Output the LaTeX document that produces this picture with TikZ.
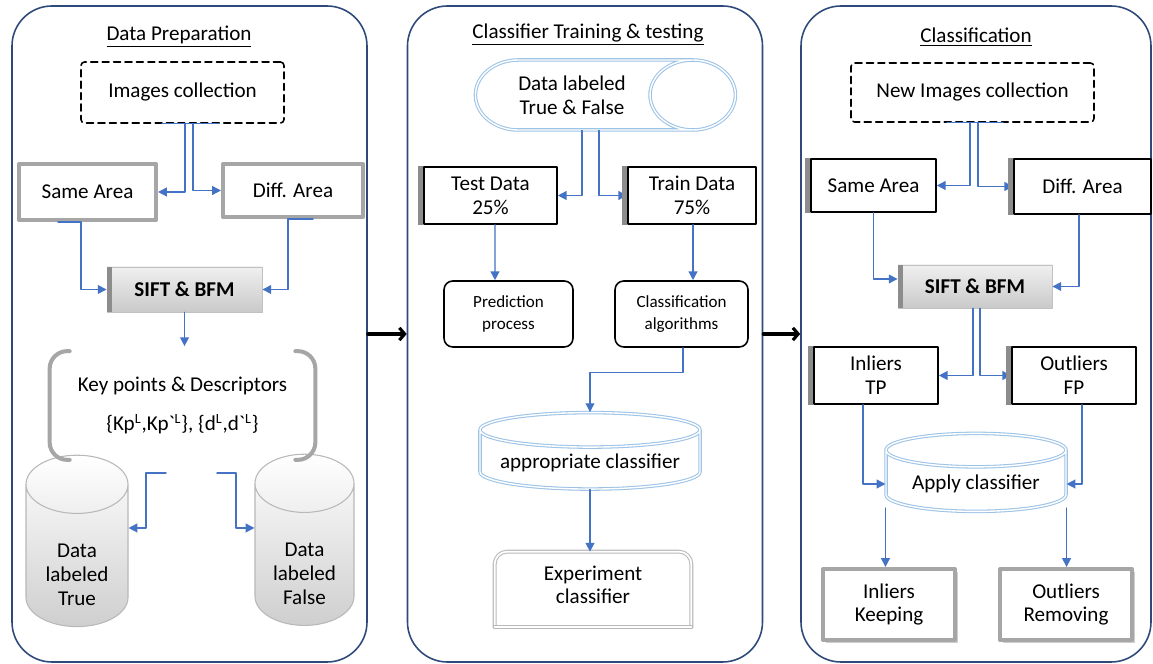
\documentclass[tikz,border=0pt]{standalone}
\usepackage{fontspec}
\setmainfont{Carlito}
\usetikzlibrary{arrows.meta,calc,shapes.geometric,shadows}
\definecolor{marco}{HTML}{2F4A7A}
\definecolor{azul}{HTML}{4472C4}
\definecolor{celeste}{HTML}{9DC3E6}
\definecolor{gris}{HTML}{A6A6A6}
\definecolor{grisbar}{HTML}{8C8C8C}

\tikzset{
  panel/.style={draw=marco, line width=0.9pt, rounded corners=0.8cm, minimum width=7.1cm, minimum height=13.12cm},
  titulo/.style={font=\fontsize{12}{14}\selectfont},
  conn/.style={azul, line width=0.8pt, -{Triangle[length=5pt,width=5pt]}},
  connline/.style={azul, line width=0.8pt},
  flecha/.style={black, line width=1.8pt, -{Straight Barb[length=3pt,width=7pt]}},
  dashbox/.style={draw, dashed, dash pattern=on 4pt off 2.5pt, line width=0.9pt, rounded corners=2pt, align=center},
  grisbox/.style={draw=gris, line width=2.3pt, fill=white, align=center},
  barbox/.style={draw=black, line width=0.9pt, fill=white, align=center},
  siftbox/.style={draw=gris!70, line width=0.5pt, top color=gray!12, bottom color=gray!42, font=\fontsize{12}{14}\selectfont\bfseries},
  roundbox/.style={draw=black, line width=0.9pt, rounded corners=5pt, align=center, font=\fontsize{9.7}{12.5}\selectfont},
  cylgris/.style={cylinder, shape border rotate=90, aspect=0.78, draw=gris!80, line width=0.6pt, top color=white, bottom color=gray!38, align=center},
  cylazul/.style={cylinder, shape border rotate=90, draw=celeste, line width=0.6pt, double=white, double distance=0.8pt, fill=white, align=center},
  cylazulh/.style={cylinder, aspect=1.7, draw=celeste, line width=0.6pt, double=white, double distance=0.8pt, fill=white, align=center},
  brk/.style={gris, line width=2.3pt, line cap=round, rounded corners=0.35cm},
  exframe/.style={draw=gray!55, line width=0.6pt, double=white, double distance=1pt},
}

\begin{document}
\begin{tikzpicture}[line cap=round, line join=round, font=\fontsize{12}{13.5}\selectfont]
  % Fondo y marco
  \fill[white] (0,0) rectangle (23.06,13.28);
  \useasboundingbox (0,0) rectangle (23.06,13.28);

  % Paneles
  \node[panel] (p1) at (3.79,6.6) {};
  \node[panel] (p2) at (11.7,6.6) {};
  \node[panel, minimum width=7.0cm] (p3) at (19.52,6.6) {};
  \node[titulo] (t1) at (3.58,12.55) {\underline{Data Preparation}};
  \node[titulo] (t2) at (11.76,12.59) {\underline{Classifier Training \& testing}};
  \node[titulo] (t3) at (19.52,12.53) {\underline{Classification}};

  % Panel 1: preparacion de datos
  \node[dashbox, minimum width=4.06cm, minimum height=1.22cm] (img1) at (3.65,11.43) {Images collection};
  \node[grisbox, minimum width=2.74cm, minimum height=1.12cm] (same1) at (1.75,9.44) {Same Area};
  \node[grisbox, minimum width=2.8cm, minimum height=1.06cm] (diff1) at (5.86,9.47) {Diff. Area};
  \node[siftbox, minimum width=3.1cm, minimum height=0.9cm] (sift1) at (3.69,7.49) {SIFT \& BFM};
  \node[align=center, minimum width=5.3cm, minimum height=2.16cm] (keys1) at (3.65,5.17)
    {Key points \& Descriptors\\[9pt]\{Kp\textsuperscript{L},Kp\textasciigrave\textsuperscript{L}\}, \{d\textsuperscript{L},d\textasciigrave\textsuperscript{L}\}};
  \node[cylgris, minimum width=2.04cm, minimum height=3.18cm] (true1) at (1.54,2.03) {\mbox{}\\[8pt]Data\\labeled\\True};
  \node[cylgris, minimum width=1.98cm, minimum height=3.14cm] (false1) at (6.09,2.05) {\mbox{}\\[8pt]Data\\labeled\\False};

  % llaves de los descriptores
  \draw[brk] ([xshift=0.4cm]keys1.north west) -- (keys1.north west) -- (keys1.south west) -- ([xshift=0.4cm]keys1.south west);
  \draw[brk] ([xshift=-0.4cm]keys1.north east) -- (keys1.north east) -- (keys1.south east) -- ([xshift=-0.4cm]keys1.south east);

  \draw[connline] ([xshift=-0.41cm]img1.south) -- ([xshift=0.73cm]img1.south);
  \draw[conn] ([xshift=0.05cm]img1.south) |- (same1.east);
  \draw[conn] ([xshift=0.21cm]img1.south) |- (diff1.west);
  \draw[conn] ([xshift=-0.59cm]same1.south) -- ++(0.46,0) |- (sift1.west);
  \draw[conn] ([xshift=0.4cm]diff1.south) -- ++(-0.5,0) |- (sift1.east);
  \coordinate (k1top) at ([yshift=0.1cm]keys1.north);
  \draw[conn] (sift1.south) -- (sift1.south |- k1top);
  \coordinate (k1a) at (3.32,3.82);
  \coordinate (k1b) at (4.34,3.82);
  \draw[conn] (k1a) -- ++(-0.4,0) |- ([yshift=0.69cm]true1.east);
  \draw[conn] (k1b) -- ++(0.38,0) |- ([yshift=0.67cm]false1.west);

  % Panel 2: entrenamiento y prueba
  \node[cylazulh, minimum width=1.4cm, minimum height=5.2cm] (dl2) at (11.44,11.38) {Data labeled\\True \& False};
  \node[barbox, minimum width=2.66cm, minimum height=1.14cm] (test2) at (9.81,9.37) {Test Data\\25\%};
  \node[barbox, minimum width=2.56cm, minimum height=1.14cm] (train2) at (13.84,9.37) {Train Data\\75\%};
  \node[roundbox, minimum width=2.58cm, minimum height=1.32cm] (pred2) at (10.17,7.0) {Prediction\\process};
  \node[roundbox, minimum width=2.66cm, minimum height=1.32cm] (class2) at (13.63,7.0) {Classification\\algorithms};
  \node[cylazul, aspect=0.18, minimum width=4.4cm, minimum height=1.5cm] (appr2) at (11.8,4.03) {appropriate classifier};
  \node[align=center, minimum width=3.92cm, minimum height=1.5cm] (exp2) at (11.86,1.49) {Experiment\\classifier\\[-8pt]\mbox{}};
  \draw[exframe, rounded corners=0.25cm] (exp2.south west) -- (exp2.north west) -- (exp2.north east) -- (exp2.south east);
  \draw[exframe] (exp2.south east) -- (exp2.south west);

  \draw[conn] ([xshift=0.2cm]dl2.south) |- (test2.east);
  \draw[conn] ([xshift=0.54cm]dl2.south) |- (train2.west);
  \draw[conn] ([xshift=0.09cm]test2.south) -- ([xshift=-0.27cm]pred2.north);
  \draw[conn] ([xshift=0.02cm]train2.south) -- ([xshift=0.23cm]class2.north);
  \draw[conn, line width=0.6pt] ([xshift=0.03cm]class2.south) -- ++(0,-0.5) -| (appr2.north);
  \draw[conn] (appr2.south) -- (appr2.south |- exp2.north);

  % Panel 3: clasificacion
  \node[dashbox, minimum width=4.86cm, minimum height=1.18cm] (img3) at (19.45,11.43) {New Images collection};
  \node[barbox, minimum width=2.5cm, minimum height=1.06cm] (same3) at (17.47,9.57) {Same Area};
  \node[barbox, minimum width=2.74cm, minimum height=1.1cm] (diff3) at (21.65,9.55) {Diff. Area};
  \node[siftbox, minimum width=3.08cm, minimum height=0.86cm] (sift3) at (19.5,7.55) {SIFT \& BFM};
  \node[barbox, minimum width=2.48cm, minimum height=1.14cm] (in3) at (17.52,5.77) {Inliers\\TP};
  \node[barbox, minimum width=2.48cm, minimum height=1.14cm] (out3) at (21.48,5.77) {Outliers\\FP};
  \node[cylazul, aspect=0.24, minimum width=3.6cm, minimum height=1.56cm] (apply3) at (19.52,3.6) {Apply classifier};
  \node[grisbox, drop shadow={shadow xshift=1.5pt, shadow yshift=-1.5pt, fill=gray!75}, minimum width=2.64cm, minimum height=1.42cm] (keep3) at (17.78,1.19) {Inliers\\Keeping};
  \node[grisbox, drop shadow={shadow xshift=1.5pt, shadow yshift=-1.5pt, fill=gray!75}, minimum width=2.64cm, minimum height=1.42cm] (rem3) at (21.32,1.19) {Outliers\\Removing};

  \draw[connline] ([xshift=-0.51cm]img3.south) -- ([xshift=0.61cm]img3.south);
  \draw[conn] ([xshift=-0.05cm]img3.south) |- (same3.east);
  \draw[conn] ([xshift=0.11cm]img3.south) |- (diff3.west);
  \draw[conn] (same3.south) |- ([yshift=0.15cm]sift3.west);
  \draw[conn] ([xshift=-0.07cm]diff3.south) |- (sift3.east);
  \draw[conn] ([xshift=-0.04cm]sift3.south) |- (in3.east);
  \draw[conn] ([xshift=0.1cm]sift3.south) |- (out3.west);
  \draw[conn] ([xshift=-0.26cm]in3.south) |- (apply3.west);
  \draw[conn] ([xshift=0.16cm]out3.south) |- (apply3.east);
  \coordinate (a3l) at ([yshift=-0.48cm]apply3.west);
  \coordinate (a3r) at ([yshift=-0.48cm]apply3.east);
  \draw[conn] (a3l) -- (a3l |- keep3.north);
  \draw[conn] (a3r) -- (a3r |- rem3.north);

  % barras grises laterales
  \foreach \n in {test2,train2,same3,diff3,in3,out3}
    \fill[grisbar] (\n.north west) rectangle ([xshift=-0.11cm]\n.south west);
  \foreach \n in {sift1,sift3}
    \fill[grisbar] (\n.north west) rectangle ([xshift=0.1cm]\n.south west);

  % Flechas entre paneles
  \draw[flecha] (p1.east) -- (p2.west);
  \draw[flecha] (p2.east) -- (p3.west);
\end{tikzpicture}
\end{document}
